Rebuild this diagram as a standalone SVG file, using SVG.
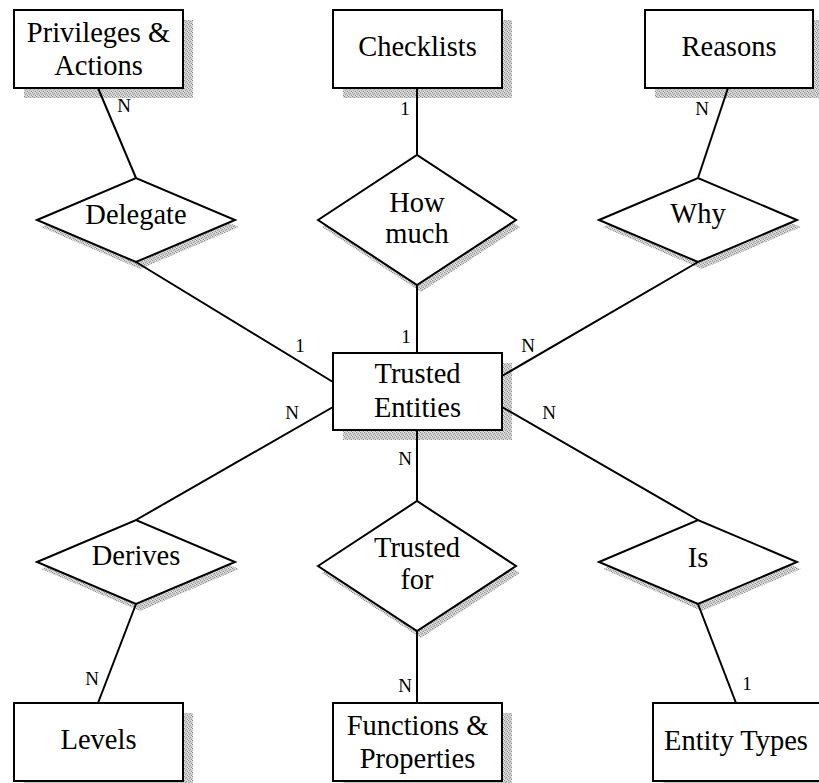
<svg xmlns="http://www.w3.org/2000/svg" width="819" height="783" viewBox="0 0 819 783">
<defs>
<pattern id="stip" width="4" height="4" patternUnits="userSpaceOnUse">
<rect width="4" height="4" fill="#cfcfcf"/>
<rect x="0" y="0" width="1" height="1" fill="#8a8a8a"/>
<rect x="2" y="1" width="1" height="1" fill="#9a9a9a"/>
<rect x="1" y="2" width="1" height="1" fill="#a0a0a0"/>
<rect x="3" y="3" width="1" height="1" fill="#8f8f8f"/>
<rect x="3" y="0" width="1" height="1" fill="#e8e8e8"/>
<rect x="0" y="3" width="1" height="1" fill="#e4e4e4"/>
</pattern>
<style>
.sh{fill:url(#stip);stroke:none}
.box{fill:#fff;stroke:#000;stroke-width:2}
.t{font-family:"Liberation Serif","Times New Roman",serif;font-size:28.5px;fill:#000;text-anchor:middle}
.c{font-family:"Liberation Serif","Times New Roman",serif;font-size:19px;fill:#000;text-anchor:middle}
.ln{stroke:#000;stroke-width:2;fill:none}
</style>
</defs>
<rect width="819" height="783" fill="#fff"/>

<g id="privileges">
<rect class="sh" x="24" y="20" width="169" height="78"/>
<rect class="box" x="14" y="10" width="169" height="78"/>
<text class="t" x="98.5" y="42">Privileges &amp;</text>
<text class="t" x="98.5" y="75">Actions</text>
</g>
<g id="checklists">
<rect class="sh" x="343" y="20" width="169" height="78"/>
<rect class="box" x="333" y="10" width="169" height="78"/>
<text class="t" x="417.5" y="56">Checklists</text>
</g>
<g id="reasons">
<rect class="sh" x="655" y="20" width="168" height="78"/>
<rect class="box" x="645" y="10" width="168" height="78"/>
<text class="t" x="729" y="56">Reasons</text>
</g>
<g id="delegate">
<polygon class="sh" points="41,227 140,185 239,227 140,269"/>
<polygon class="box" points="37,220 136,178 235,220 136,262"/>
<text class="t" x="136" y="224">Delegate</text>
</g>
<g id="howmuch">
<polygon class="sh" points="322,227 421,162 520,227 421,292"/>
<polygon class="box" points="318,220 417,155 516,220 417,285"/>
<text class="t" x="417" y="212">How</text>
<text class="t" x="417" y="243">much</text>
</g>
<g id="why">
<polygon class="sh" points="603,227 702,185 801,227 702,269"/>
<polygon class="box" points="599,220 698,178 797,220 698,262"/>
<text class="t" x="698" y="223">Why</text>
</g>
<g id="trusted-entities">
<rect class="sh" x="343" y="363" width="169" height="77"/>
<rect class="box" x="333" y="353" width="169" height="77"/>
<text class="t" x="417.5" y="383">Trusted</text>
<text class="t" x="417.5" y="417">Entities</text>
</g>
<g id="derives">
<polygon class="sh" points="41,569 140,527 239,569 140,611"/>
<polygon class="box" points="37,562 136,520 235,562 136,604"/>
<text class="t" x="136" y="565">Derives</text>
</g>
<g id="trustedfor">
<polygon class="sh" points="322,573 421,508 520,573 421,638"/>
<polygon class="box" points="318,566 417,501 516,566 417,631"/>
<text class="t" x="417" y="557">Trusted</text>
<text class="t" x="417" y="589">for</text>
</g>
<g id="is">
<polygon class="sh" points="603,569 702,527 801,569 702,611"/>
<polygon class="box" points="599,562 698,520 797,562 698,604"/>
<text class="t" x="698" y="567">Is</text>
</g>
<g id="levels">
<rect class="sh" x="24" y="713" width="169" height="78"/>
<rect class="box" x="14" y="703" width="169" height="78"/>
<text class="t" x="98.5" y="749">Levels</text>
</g>
<g id="functions">
<rect class="sh" x="343" y="713" width="169" height="78"/>
<rect class="box" x="333" y="703" width="169" height="78"/>
<text class="t" x="417.5" y="735">Functions &amp;</text>
<text class="t" x="417.5" y="768">Properties</text>
</g>
<g id="entity-types">
<rect class="sh" x="663" y="713" width="168" height="78"/>
<rect class="box" x="653" y="703" width="168" height="78"/>
<text class="t" x="736" y="750">Entity Types</text>
</g>

<g id="connectors">
<line class="ln" x1="98" y1="88" x2="136" y2="178"/>
<line class="ln" x1="417" y1="88" x2="417" y2="155"/>
<line class="ln" x1="728" y1="88" x2="698" y2="178"/>
<line class="ln" x1="136" y1="262" x2="333" y2="382"/>
<line class="ln" x1="417" y1="285" x2="417" y2="353"/>
<line class="ln" x1="698" y1="262" x2="502" y2="376"/>
<line class="ln" x1="333" y1="407" x2="136" y2="520"/>
<line class="ln" x1="417" y1="430" x2="417" y2="501"/>
<line class="ln" x1="502" y1="407" x2="698" y2="520"/>
<line class="ln" x1="136" y1="604" x2="98" y2="703"/>
<line class="ln" x1="417" y1="631" x2="417" y2="703"/>
<line class="ln" x1="698" y1="604" x2="736" y2="703"/>
<text class="c" x="124" y="112">N</text>
<text class="c" x="405" y="115">1</text>
<text class="c" x="702" y="115">N</text>
<text class="c" x="300" y="352">1</text>
<text class="c" x="406" y="343">1</text>
<text class="c" x="528" y="352">N</text>
<text class="c" x="292" y="419">N</text>
<text class="c" x="405" y="465">N</text>
<text class="c" x="549" y="419">N</text>
<text class="c" x="92" y="685">N</text>
<text class="c" x="405" y="692">N</text>
<text class="c" x="747" y="690">1</text>
</g>
</svg>
